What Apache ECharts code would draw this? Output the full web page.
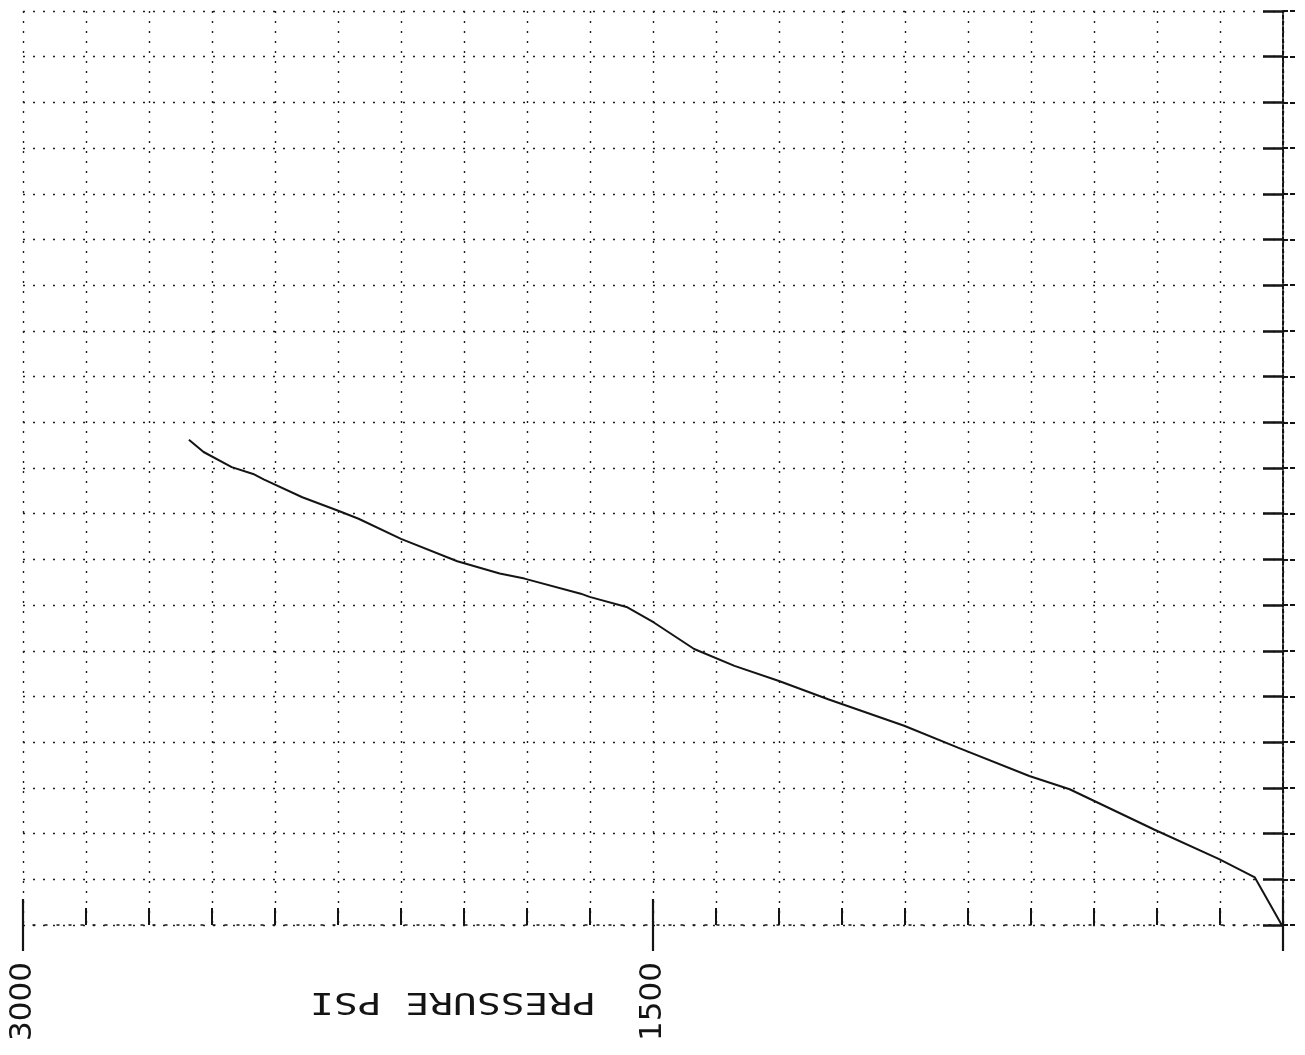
<!DOCTYPE html>
<html>
<head>
<meta charset="utf-8">
<script src="https://cdn.jsdelivr.net/npm/echarts@6/dist/echarts.min.js"></script>
<style>
  html, body { margin: 0; padding: 0; background: #fff; }
  #chart { width: 1305px; height: 1055px; }
</style>
</head>
<body>
<div id="chart"></div>
<script>
// Pressure readings (psi) along the trace, with the matching grid division on the vertical scale
const pressurePsi = [2605, 2570, 2503, 2452, 2427, 2335, 2251, 2201, 2100, 1966, 1865, 1806, 1672, 1651,
                     1563, 1498, 1402, 1306, 1200, 1083, 902, 774, 604, 508, 307, 152, 67, 3];
const division    = [10.62, 10.35, 10.02, 9.87, 9.75, 9.36, 9.07, 8.89, 8.45, 7.96, 7.69, 7.58, 7.25, 7.18,
                     6.96, 6.62, 6.04, 5.67, 5.34, 4.94, 4.36, 3.88, 3.26, 2.97, 2.09, 1.44, 1.04, 0.0];

// Labelled pressure ticks on the horizontal scale
const labelledPsi = [3000, 1500];
const axisTitle = 'PRESSURE PSI';

const trace = pressurePsi.map((p, i) => [p, division[i]]);

const ink = '#141414';
const chart = echarts.init(document.getElementById('chart'), null, { renderer: 'canvas' });

const pressureScale = { type: 'value', min: 0, max: 3000, inverse: true, gridIndex: 0 };

chart.setOption({
  animation: false,
  backgroundColor: '#ffffff',
  grid: { left: 23, right: 22, top: 11, bottom: 130, containLabel: false },
  xAxis: [
    Object.assign({}, pressureScale, {
      position: 'bottom',
      interval: 150,
      axisLine: { show: true, lineStyle: { color: ink, width: 1.5, type: [2, 10] } },
      axisTick: { show: true, inside: true, length: 17, lineStyle: { color: ink, width: 2 } },
      splitLine: { show: true, lineStyle: { color: '#1e1e1e', width: 1.4, type: [2, 8] } },
      axisLabel: { show: false }
    }),
    Object.assign({}, pressureScale, {
      position: 'bottom',
      offset: 0,
      interval: 1500,
      axisLine: { show: false },
      axisTick: { show: true, inside: false, length: 26, lineStyle: { color: ink, width: 2.2 } },
      splitLine: { show: false },
      axisLabel: {
        show: true,
        rotate: 90,
        margin: 37,
        color: ink,
        fontFamily: 'DejaVu Sans',
        fontSize: 31,
        formatter: v => (labelledPsi.indexOf(v) >= 0 ? String(v) : '')
      }
    }),
    Object.assign({}, pressureScale, {
      position: 'bottom',
      offset: 0,
      interval: 1500,
      axisLine: { show: false },
      axisTick: { show: true, inside: true, length: 26, lineStyle: { color: ink, width: 2.2 } },
      splitLine: { show: false },
      axisLabel: { show: false }
    })
  ],
  yAxis: [
    {
      type: 'value', min: 0, max: 20, interval: 1, position: 'right', gridIndex: 0,
      axisLine: { show: true, lineStyle: { color: ink, width: 2, type: [4, 2] } },
      axisTick: { show: true, inside: true, length: 20, lineStyle: { color: ink, width: 2.5 } },
      splitLine: { show: true, lineStyle: { color: '#1e1e1e', width: 1.4, type: [2, 8] } },
      axisLabel: { show: false }
    },
    {
      type: 'value', min: 0, max: 20, interval: 1, position: 'left', gridIndex: 0,
      axisLine: { show: false },
      axisTick: { show: true, inside: true, length: 14, lineStyle: { color: ink, width: 2, type: [5, 2] } },
      splitLine: { show: false },
      axisLabel: { show: false }
    }
  ],
  graphic: [
    {
      type: 'text',
      x: 453, y: 1001,
      rotation: Math.PI,
      scaleX: 1.32,
      style: {
        text: axisTitle,
        x: 0, y: 0,
        align: 'center', verticalAlign: 'middle',
        textAlign: 'center', textVerticalAlign: 'middle',
        fontFamily: 'DejaVu Sans Mono',
        fontSize: 30,
        fill: ink
      }
    }
  ],
  series: [
    {
      type: 'line',
      xAxisIndex: 0,
      yAxisIndex: 0,
      data: trace,
      showSymbol: false,
      smooth: false,
      lineStyle: { color: ink, width: 2 },
      z: 5
    }
  ]
});
</script>
</body>
</html>
